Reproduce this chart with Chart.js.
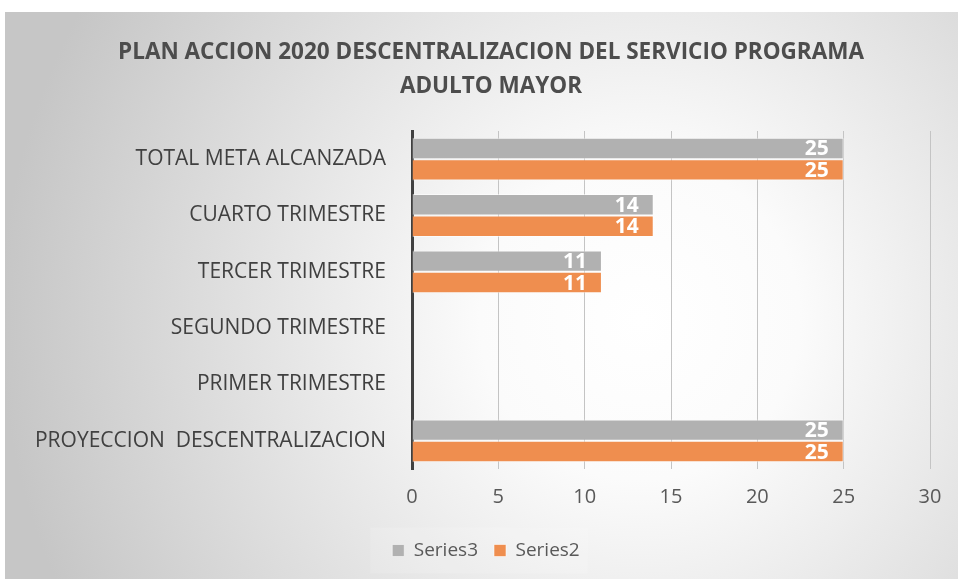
<!DOCTYPE html>
<html>
<head>
<meta charset="utf-8">
<script src="https://cdn.jsdelivr.net/npm/chart.js@4"></script>
<style>
  html, body { margin: 0; padding: 0; background: #fff; }
  #wrap { width: 958px; height: 579px; }
</style>
</head>
<body>
<div id="wrap"><canvas id="chart"></canvas></div>
<script>
// chart data
const titleLines = ["PLAN ACCION 2020 DESCENTRALIZACION DEL SERVICIO PROGRAMA", "ADULTO MAYOR"];
const categories = ["TOTAL META ALCANZADA", "CUARTO TRIMESTRE", "TERCER TRIMESTRE", "SEGUNDO TRIMESTRE", "PRIMER TRIMESTRE", "PROYECCION  DESCENTRALIZACION"];
const series3 = [25, 14, 11, null, null, 25];
const series2 = [25, 14, 11, null, null, 25];
const xMin = 0, xMax = 30, xStep = 5;

const FONT = "'Open Sans', sans-serif";

// gradient backdrop behind everything
const bgPlugin = {
  id: "bg",
  afterLayout(chart){
    // title and legend sit a bit right of centre in the original
    if(chart.titleBlock) chart.titleBlock.left += 24;
    if(chart.legend) chart.legend.left += 14;
  },
  beforeDraw(chart){
    const ctx = chart.ctx;
    ctx.save();
    ctx.fillStyle = "#fff";
    ctx.fillRect(0, 0, chart.width, chart.height);
    const g = ctx.createRadialGradient(640, 320, 0, 640, 320, 640);
    g.addColorStop(0, "#ffffff");
    g.addColorStop(0.25, "#fbfbfb");
    g.addColorStop(1, "#c6c6c6");
    ctx.fillStyle = g;
    ctx.fillRect(5, 12, chart.width - 5, chart.height - 12);
    // faint box behind the legend items
    const lg = chart.legend;
    if(lg && lg.legendHitBoxes && lg.legendHitBoxes.length){
      const hb = lg.legendHitBoxes;
      const x0 = Math.min(...hb.map(b => b.left)) - 22;
      const x1 = Math.max(...hb.map(b => b.left + b.width)) + 8;
      const cy = hb[0].top + hb[0].height / 2;
      ctx.fillStyle = "rgba(255,255,255,0.14)";
      ctx.fillRect(x0, cy - 23, x1 - x0, 46);
    }
    ctx.restore();
  }
};

// white value labels at the end of each bar
const labelPlugin = {
  id: "vals",
  afterDatasetsDraw(chart){
    const ctx = chart.ctx;
    ctx.save();
    ctx.font = "bold 21px " + FONT;
    ctx.fillStyle = "#fff";
    ctx.textAlign = "right";
    ctx.textBaseline = "middle";
    chart.data.datasets.forEach((ds, i) => {
      chart.getDatasetMeta(i).data.forEach((bar, j) => {
        const v = ds.data[j];
        if(v === null || v === undefined) return;
        ctx.fillText(String(v), bar.x - 15, bar.y + 1);
      });
    });
    ctx.restore();
  }
};

new Chart(document.getElementById("chart"), {
  type: "bar",
  data: {
    labels: categories,
    datasets: [
      { label: "Series3", data: series3, backgroundColor: "#b1b1b1", borderColor: "rgba(255,255,255,0.55)", borderWidth: 1 },
      { label: "Series2", data: series2, backgroundColor: "#ef8e4f", borderColor: "rgba(255,255,255,0.55)", borderWidth: 1 }
    ]
  },
  plugins: [bgPlugin, labelPlugin],
  options: {
    indexAxis: "y",
    responsive: true,
    maintainAspectRatio: false,
    animation: false,
    categoryPercentage: 0.76,
    barPercentage: 1,
    layout: { padding: { left: 28, right: 28, top: 36, bottom: 9 } },
    scales: {
      x: {
        min: xMin, max: xMax,
        ticks: { stepSize: xStep, color: "#595959", font: { family: FONT, size: 20 }, padding: 16 },
        grid: { color: "#c4c4c4", lineWidth: 1, drawTicks: false },
        border: { display: false }
      },
      y: {
        ticks: { color: "#404040", font: { family: FONT, size: 21 }, padding: 26 },
        grid: { display: false, drawTicks: false },
        border: { color: "#404040", width: 3 },
        afterFit(scale){ scale.width = 384; }
      }
    },
    plugins: {
      title: {
        display: true,
        text: titleLines,
        color: "#4d4d4d",
        font: { family: FONT, size: 22.5, weight: "bold", lineHeight: 1.5 },
        padding: { top: 0, bottom: 27.5 }
      },
      legend: {
        position: "bottom",
        labels: { color: "#595959", font: { family: FONT, size: 19 }, boxWidth: 12, boxHeight: 12, padding: 16 }
      },
      tooltip: { enabled: false }
    }
  }
});
</script>
</body>
</html>
